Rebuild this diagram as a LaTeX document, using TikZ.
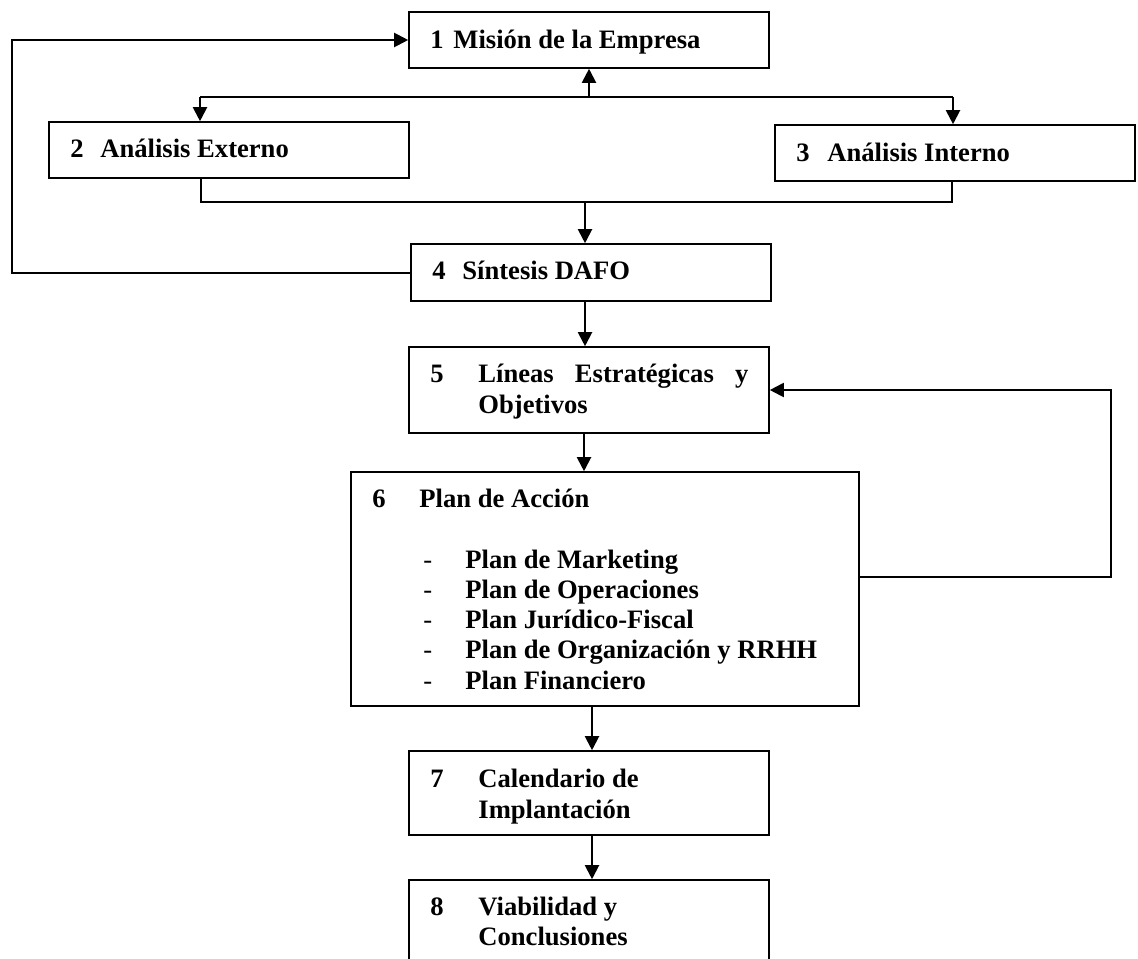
\documentclass[tikz,border=0pt]{standalone}
\usepackage{fontspec}
\setmainfont{Liberation Serif}
\usetikzlibrary{arrows.meta,fit}
\begin{document}
\begin{tikzpicture}[x=0.5pt,y=-0.5pt,
  box/.style={draw, line width=0.8pt, inner sep=0pt, rectangle},
  txt/.style={anchor=base west, inner sep=0pt, font=\fontsize{13.3}{15.3}\selectfont\bfseries},
  conn/.style={line width=1pt},
  arr/.style={conn, -{Triangle[length=7pt,width=7pt]}}]
\useasboundingbox (0,0) rectangle (1138,958);
\clip (0,0) rectangle (1138,958);
% boxes
\node[box, fit={(409,12)(769,68)}] (b1) {};
\node[box, fit={(49,122)(409,178)}] (b2) {};
\node[box, fit={(775,125)(1135,181)}] (b3) {};
\node[box, fit={(411,244)(771,301)}] (b4) {};
\node[box, fit={(409,347)(769,433)}] (b5) {};
\node[box, fit={(351,472)(859,706)}] (b6) {};
\node[box, fit={(409,751)(769,835)}] (b7) {};
\node[box, fit={(409,880)(769,975)}] (b8) {};
% texts
\node[txt] (n1) at (430,48) {1};
\node[txt] (t1) at (453,48) {Misión de la Empresa};
\node[txt] (n2) at (70,157) {2};
\node[txt] (t2) at (100,157) {Análisis Externo};
\node[txt] (n3) at (796,161) {3};
\node[txt] (t3) at (827,161) {Análisis Interno};
\node[txt] (n4) at (432,279) {4};
\node[txt] (t4) at (462,279) {Síntesis DAFO};
\node[txt] (n5) at (430,382) {5};
\node[txt] (t5a) at (478,382) {\makebox[135pt][s]{Líneas Estratégicas y}};
\node[txt] (t5b) at (478,413) {Objetivos};
\node[txt] (n6) at (372,507) {6};
\node[txt] (t6) at (419,507) {Plan de Acción};
\node[txt,font=\fontsize{13.3}{15.3}\selectfont] (d1) at (423,568) {-};
\node[txt,font=\fontsize{13.3}{15.3}\selectfont] (d2) at (423,598) {-};
\node[txt,font=\fontsize{13.3}{15.3}\selectfont] (d3) at (423,628) {-};
\node[txt,font=\fontsize{13.3}{15.3}\selectfont] (d4) at (423,658) {-};
\node[txt,font=\fontsize{13.3}{15.3}\selectfont] (d5) at (423,689) {-};
\node[txt] (p1) at (465,568) {Plan de Marketing};
\node[txt] (p2) at (465,598) {Plan de Operaciones};
\node[txt] (p3) at (465,628) {Plan Jurídico-Fiscal};
\node[txt] (p4) at (465,658) {Plan de Organización y RRHH};
\node[txt] (p5) at (465,689) {Plan Financiero};
\node[txt] (n7) at (430,787) {7};
\node[txt] (t7a) at (478,787) {Calendario de};
\node[txt] (t7b) at (478,818) {Implantación};
\node[txt] (n8) at (430,915) {8};
\node[txt] (t8a) at (478,915) {Viabilidad y};
\node[txt] (t8b) at (478,945) {Conclusiones};
% junction coordinates
\coordinate (L) at (12,42);
\coordinate (j1) at (589,97);
\coordinate (j2) at (200,97);
\coordinate (j3) at (953,97);
\coordinate (k2) at (201,202);
\coordinate (k3) at (952,202);
\coordinate (k4) at (585,202);
\coordinate (m5) at (584,0);
\coordinate (m7) at (592,0);
\coordinate (r1) at (1111,577);
% connectors
\draw[arr] (b4.west) -- (b4.west -| L) |- (b1.west);
\draw[conn] (j2) -- (j3);
\draw[arr] (j1) -- (b1.south);
\draw[arr] (j2) -- (j2 |- b2.north);
\draw[arr] (j3) -- (j3 |- b3.north);
\draw[conn] (k2 |- b2.south) -- (k2) -- (k3) -- (k3 |- b3.south);
\draw[arr] (k4) -- (k4 |- b4.north);
\draw[arr] (b4.south -| k4) -- (b5.north -| k4);
\draw[arr] (b5.south -| m5) -- (b6.north -| m5);
\draw[arr] (r1 -| b6.east) -- (r1) |- (b5.east);
\draw[arr] (b6.south -| m7) -- (b7.north -| m7);
\draw[arr] (b7.south -| m7) -- (b8.north -| m7);
\end{tikzpicture}
\end{document}
